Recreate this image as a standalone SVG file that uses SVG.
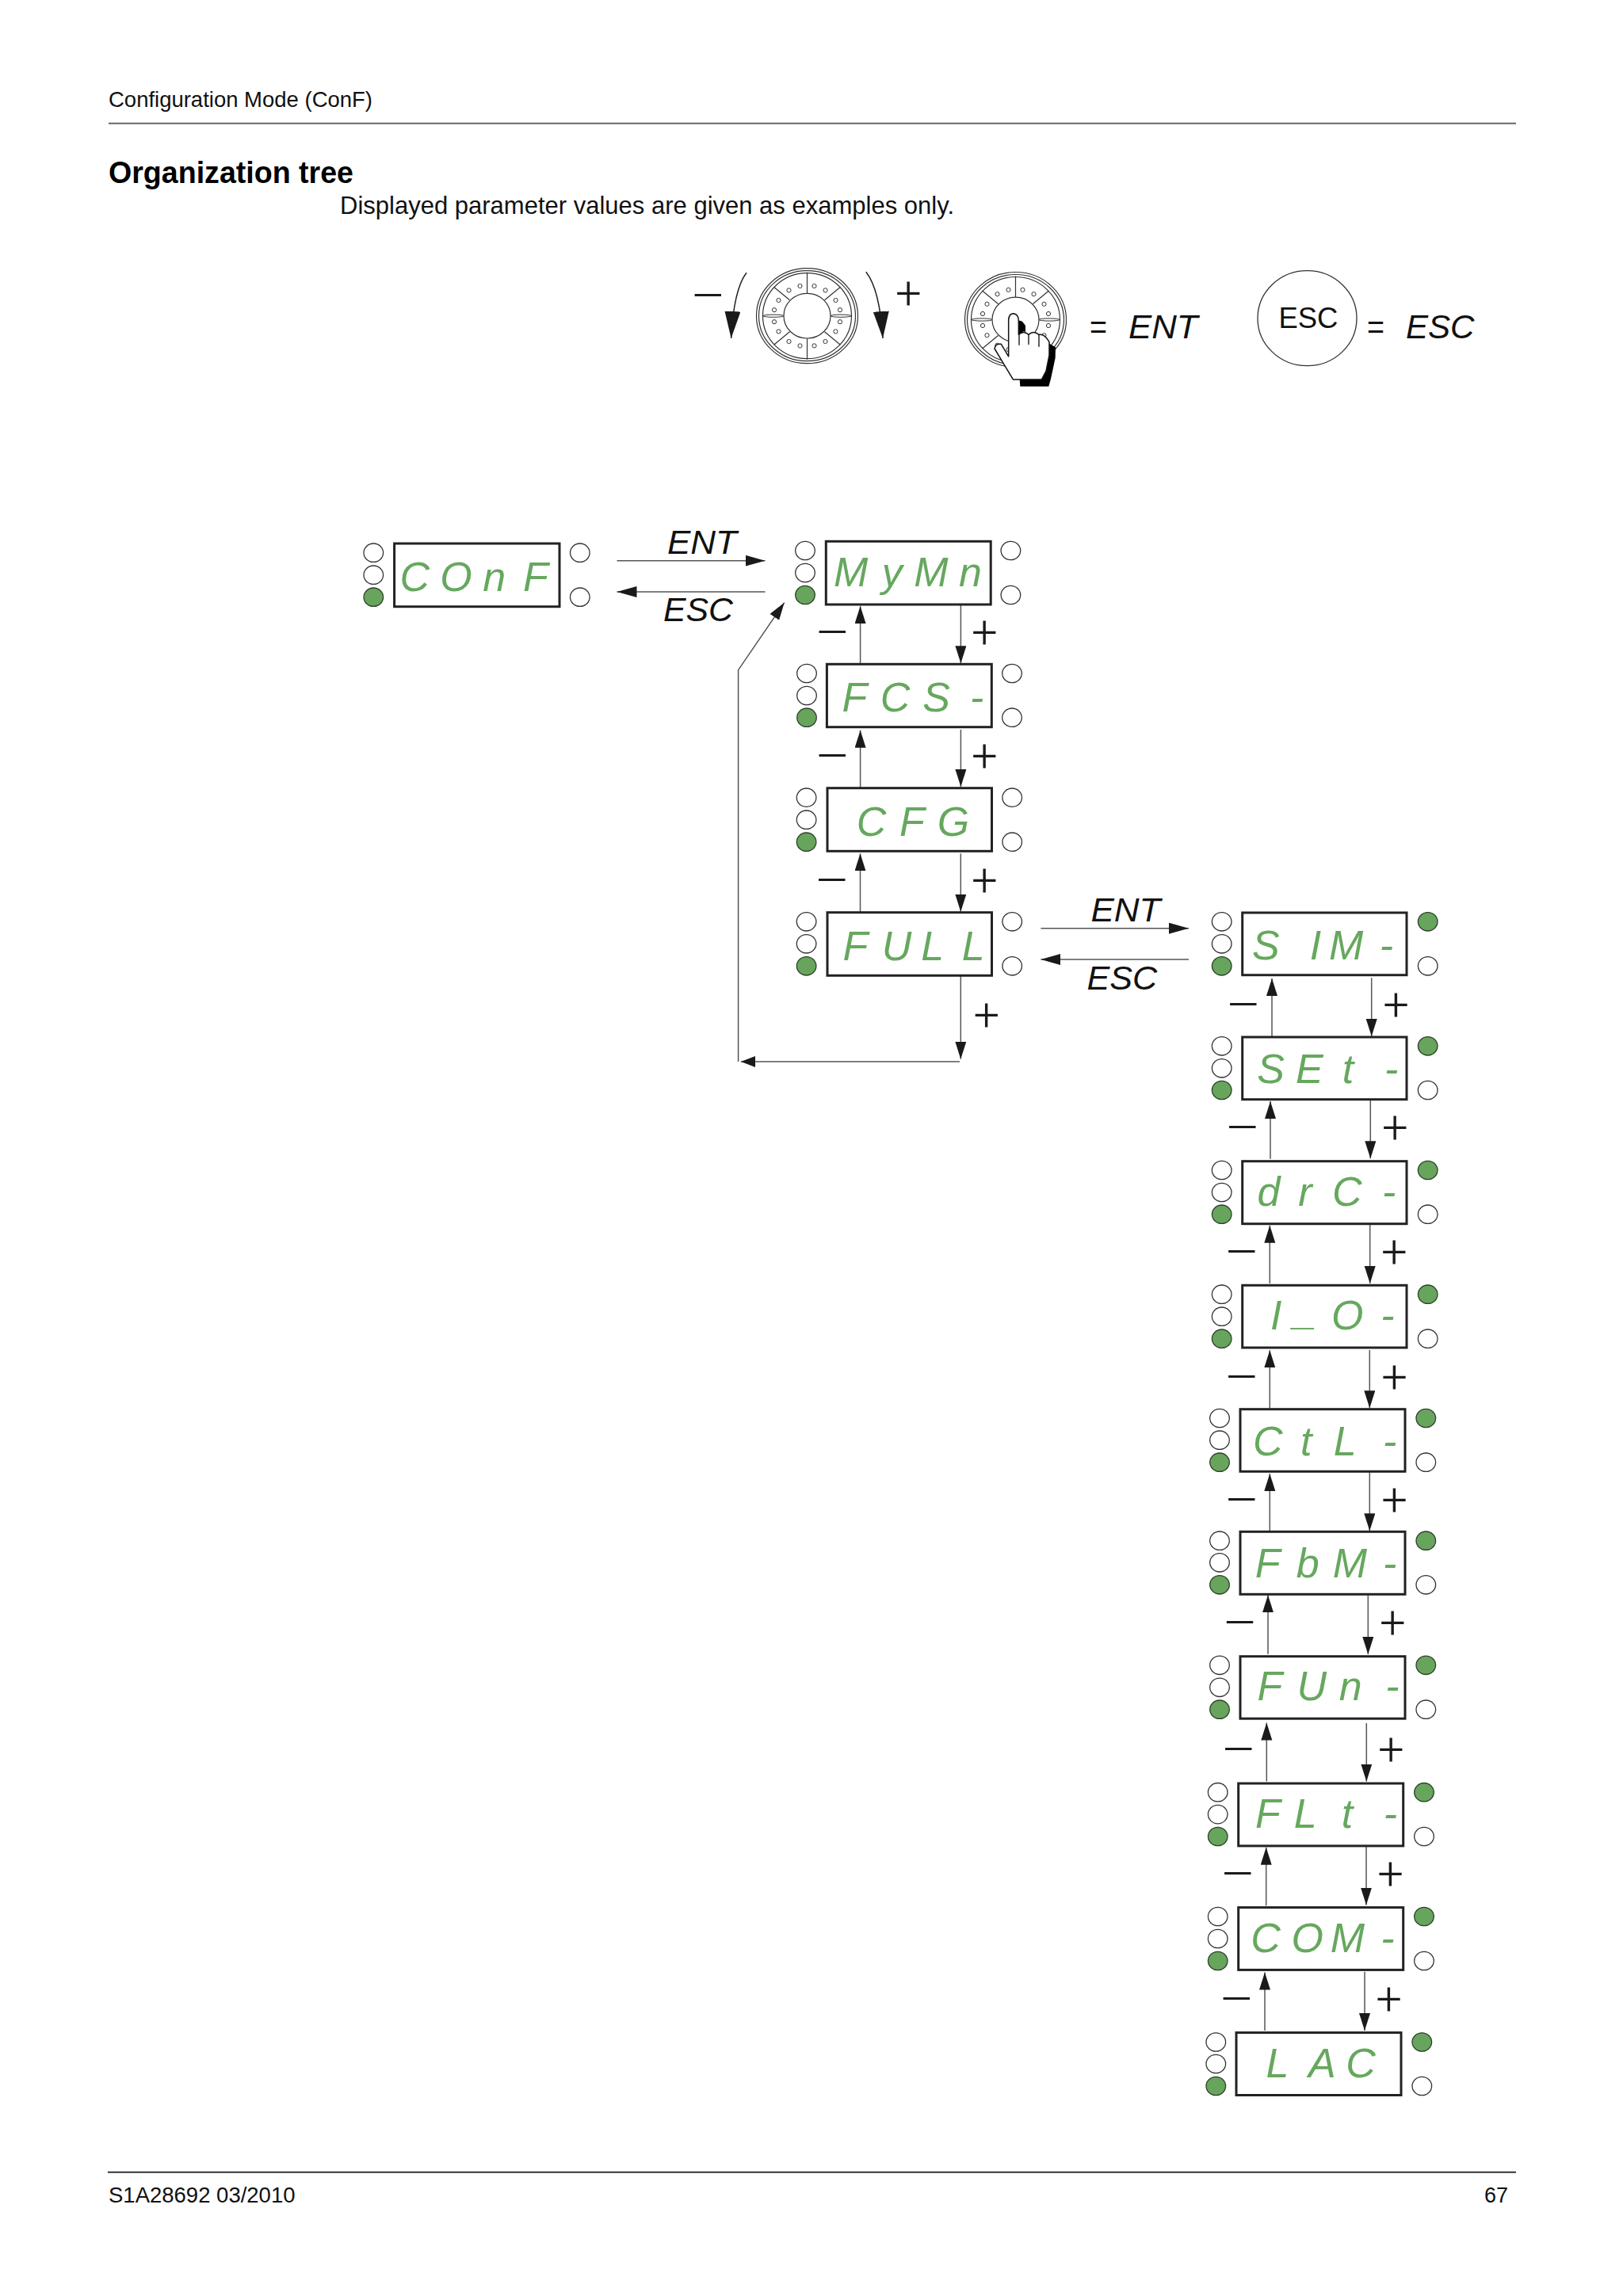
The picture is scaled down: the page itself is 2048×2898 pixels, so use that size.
<svg xmlns="http://www.w3.org/2000/svg" xmlns:xlink="http://www.w3.org/1999/xlink" width="2048" height="2898" viewBox="0 0 2048 2898">
<style>
text{font-family:"Liberation Sans",Arial,sans-serif;fill:#111}
.t{font-size:28px}
.h{font-size:38px;font-weight:bold;fill:#000}
.b{font-size:32px}
.k{font-size:37px}
.q{font-size:42px}
.i{font-size:43px;font-style:italic}
.seg{font-family:"Liberation Sans Narrow","Liberation Sans",sans-serif;font-style:italic;font-size:52px;fill:#66a85e;text-anchor:middle}
.pm{font-family:"Roboto","Liberation Sans",sans-serif;font-weight:300;font-size:58px;fill:#1a1a1a;text-anchor:middle}
.mn{font-family:"Roboto","Liberation Sans",sans-serif;font-weight:200;font-size:82px;fill:#1a1a1a;text-anchor:middle}
.box{fill:#fff;stroke:#222;stroke-width:3}
.off{fill:#fff;stroke:#333;stroke-width:1.3}
.on{fill:#67a55c;stroke:#2f3f2c;stroke-width:1.3}
.c{fill:none;stroke:#555;stroke-width:1.5}
.ck{fill:none;stroke:#222;stroke-width:1.5}
.ah{marker-end:url(#ah)}
.ah2{marker-end:url(#ah2)}
.ah3{marker-end:url(#ah3)}
.ah4{marker-end:url(#ah4)}
.rule{stroke-width:2}
.d{fill:none;stroke:#333;stroke-width:1.2}
.dw{fill:#fff;stroke:#333;stroke-width:1}
</style>
<defs>
<marker id="ah" markerUnits="userSpaceOnUse" markerWidth="24" markerHeight="16" refX="22" refY="7" orient="auto"><path d="M0 0L22 7L0 14Z" fill="#1a1a1a"/></marker>
<marker id="ah2" markerUnits="userSpaceOnUse" markerWidth="27" markerHeight="16" refX="25" refY="7" orient="auto"><path d="M0 0L25 7L0 14Z" fill="#1a1a1a"/></marker>
<marker id="ah3" markerUnits="userSpaceOnUse" markerWidth="36" markerHeight="22" refX="34" refY="10" orient="auto"><path d="M0 0L34 10L0 20Z" fill="#1a1a1a"/></marker>
<marker id="ah4" markerUnits="userSpaceOnUse" markerWidth="20" markerHeight="16" refX="18" refY="7" orient="auto"><path d="M0 0L18 7L0 14Z" fill="#1a1a1a"/></marker>
<g id="dial">
<ellipse class="d" rx="64" ry="60"/><ellipse class="d" rx="61" ry="57"/><ellipse class="d" rx="56" ry="54"/>
<ellipse class="d" rx="29.5" ry="28.3"/>
<path class="d" d="M0-55V-28.5M0 55V28.5M-42-36.500L-22-20M42-36.500L22-20M-42 36.500L-22 20M42 36.500L22 20"/>
<ellipse class="dw" cx="-42.500" rx="13" ry="1.600"/><ellipse class="dw" cx="42.500" rx="13" ry="1.600"/>
<g class="dw"><ellipse cx="-9" cy="-37.700" rx="2.600" ry="2.600"/><ellipse cx="9" cy="-37.700" rx="2.600" ry="2.600"/><ellipse cx="-23" cy="-32.300" rx="2.600" ry="2.600"/><ellipse cx="23" cy="-32.300" rx="2.600" ry="2.600"/><ellipse cx="-36" cy="-19.700" rx="2.600" ry="2.600"/><ellipse cx="36" cy="-19.700" rx="2.600" ry="2.600"/><ellipse cx="-41.500" cy="-7.500" rx="2.600" ry="2.600"/><ellipse cx="41.500" cy="-7.500" rx="2.600" ry="2.600"/><ellipse cx="-9" cy="37.700" rx="2.600" ry="2.600"/><ellipse cx="9" cy="37.700" rx="2.600" ry="2.600"/><ellipse cx="-23" cy="32.300" rx="2.600" ry="2.600"/><ellipse cx="23" cy="32.300" rx="2.600" ry="2.600"/><ellipse cx="-36" cy="19.700" rx="2.600" ry="2.600"/><ellipse cx="36" cy="19.700" rx="2.600" ry="2.600"/><ellipse cx="-41.500" cy="7.500" rx="2.600" ry="2.600"/><ellipse cx="41.500" cy="7.500" rx="2.600" ry="2.600"/></g>
</g>
</defs>
<rect width="2048" height="2898" fill="#fff"/>

<g id="page">
<text class="t" x="137" y="135" textLength="333" lengthAdjust="spacingAndGlyphs">Configuration Mode (ConF)</text>
<line class="rule" x1="137" y1="155.700" x2="1913" y2="155.700" stroke="#666"/>
<text class="h" x="137" y="230.700" textLength="309" lengthAdjust="spacingAndGlyphs">Organization tree</text>
<text class="b" x="429" y="270" textLength="775" lengthAdjust="spacingAndGlyphs">Displayed parameter values are given as examples only.</text>
<line class="rule" x1="136" y1="2741.700" x2="1913" y2="2741.700" stroke="#333"/>
<text class="t" x="137" y="2780" textLength="235.500" lengthAdjust="spacingAndGlyphs">S1A28692 03/2010</text>
<text class="t" x="1873" y="2780" textLength="30" lengthAdjust="spacingAndGlyphs">67</text>
</g>

<g id="legend">
<g id="legend-turn">
<use xlink:href="#dial" href="#dial" x="1018.500" y="398.700"/>
<path class="ck ah3" d="M942 344.300Q926 365 922.600 427"/>
<path class="ck ah3" d="M1092.800 343.300Q1110 365 1114 427"/>
<text class="mn" x="893.400" y="402">−</text>
<text class="pm" x="1146.500" y="390">+</text>
</g>
<g id="legend-ent">
<use xlink:href="#dial" href="#dial" x="1281.500" y="403.500"/>
<g transform="translate(1210 335) scale(.3333)">
<path d="M340 295L366 310L365 350L348 430L340 458H232L230 432H313L330 400L342 340Z" fill="#000"/>
<path d="M226 208L240 212L252 228V252L245 250L228 262Z" fill="#000"/>
<path d="M205 432L150 340L135 315Q138 295 160 298L188 345V205Q190 182 207 182Q226 185 226 210V262Q245 245 264 262Q282 245 303 262Q325 258 342 290V340L330 400L313 432Z" fill="#fff" stroke="#111" stroke-width="4.500" stroke-linejoin="round"/>
<path d="M228 262V302M264 262V300M303 262V308" fill="none" stroke="#111" stroke-width="4"/>
</g>
<text class="q" x="1375" y="427" textLength="22" lengthAdjust="spacingAndGlyphs">=</text>
<text class="i" x="1424" y="426.700" textLength="87.500" lengthAdjust="spacingAndGlyphs">ENT</text>
</g>
<g id="legend-esc">
<ellipse class="off" cx="1649.500" cy="401.700" rx="62.500" ry="60"/>
<text class="k" x="1613.400" y="414" textLength="75" lengthAdjust="spacingAndGlyphs">ESC</text>
<text class="q" x="1725" y="427" textLength="22" lengthAdjust="spacingAndGlyphs">=</text>
<text class="i" x="1774" y="426.700" textLength="86.500" lengthAdjust="spacingAndGlyphs">ESC</text>
</g>
</g>

<g id="connectors">
<path class="c ah2" d="M778.500 707.700H965.500"/>
<path class="c ah2" d="M965.500 747H778.500"/>
<path class="c ah2" d="M1313.400 1171.700H1500"/>
<path class="c ah2" d="M1500 1211H1313.400"/>
<path class="c ah" d="M931.600 1340V845.700L989.700 760.700"/>
<path class="c ah4" d="M1211 1340H935"/>
<path class="c ah" d="M1085.600 837.300V765"/><path class="c ah" d="M1212.400 764V837.300"/>
<path class="c ah" d="M1085.600 994V921.700"/><path class="c ah" d="M1212.400 921V993"/>
<path class="c ah" d="M1085.500 1151.300V1077.300"/><path class="c ah" d="M1212.300 1077.300V1150.700"/>
<path class="c ah" d="M1212.300 1232V1336.700"/>
<path class="c ah" d="M1605 1308V1235"/><path class="c ah" d="M1730.700 1234.300V1308"/>
<path class="c ah" d="M1603 1462.700V1390"/><path class="c ah" d="M1729.300 1388V1462.300"/>
<path class="c ah" d="M1602.300 1620V1546.700"/><path class="c ah" d="M1728.700 1545.700V1620"/>
<path class="c ah" d="M1602.300 1777.300V1704.300"/><path class="c ah" d="M1728.300 1704V1777.300"/>
<path class="c ah" d="M1602.300 1932.300V1860"/><path class="c ah" d="M1728.300 1858.300V1932.300"/>
<path class="c ah" d="M1600 2087.700V2013.300"/><path class="c ah" d="M1726.300 2013.300V2088"/>
<path class="c ah" d="M1598.300 2248.400V2174.500"/><path class="c ah" d="M1724.300 2175V2248.500"/>
<path class="c ah" d="M1597.700 2405.300V2331.800"/><path class="c ah" d="M1724 2330.700V2404.500"/>
<path class="c ah" d="M1596 2563V2489.500"/><path class="c ah" d="M1722 2488.700V2563"/>
</g>

<g id="connector-labels">
<text class="i" x="842" y="699.300" textLength="88" lengthAdjust="spacingAndGlyphs">ENT</text>
<text class="i" x="837" y="784.300" textLength="88" lengthAdjust="spacingAndGlyphs">ESC</text>
<text class="i" x="1376.400" y="1163.300" textLength="88" lengthAdjust="spacingAndGlyphs">ENT</text>
<text class="i" x="1371.500" y="1248.700" textLength="88.800" lengthAdjust="spacingAndGlyphs">ESC</text>
<text class="mn" x="1050.500" y="826.700">−</text><text class="pm" x="1242.500" y="817.500">+</text>
<text class="mn" x="1050.500" y="983.300">−</text><text class="pm" x="1242.500" y="974">+</text>
<text class="mn" x="1050" y="1140.300">−</text><text class="pm" x="1242.300" y="1131">+</text>
<text class="pm" x="1244.800" y="1300.500">+</text>
<text class="mn" x="1569" y="1297.300">−</text><text class="pm" x="1761.700" y="1288">+</text>
<text class="mn" x="1568" y="1451.700">−</text><text class="pm" x="1760.300" y="1442.500">+</text>
<text class="mn" x="1567" y="1608.700">−</text><text class="pm" x="1759.300" y="1599.500">+</text>
<text class="mn" x="1567" y="1767">−</text><text class="pm" x="1759.700" y="1757.500">+</text>
<text class="mn" x="1567" y="1921.700">−</text><text class="pm" x="1759.700" y="1912.500">+</text>
<text class="mn" x="1564.700" y="2076.700">−</text><text class="pm" x="1757.300" y="2067.500">+</text>
<text class="mn" x="1563" y="2236.700">−</text><text class="pm" x="1755.300" y="2227.500">+</text>
<text class="mn" x="1562" y="2393.600">−</text><text class="pm" x="1754.700" y="2384.500">+</text>
<text class="mn" x="1560.500" y="2551.600">−</text><text class="pm" x="1752.700" y="2542.500">+</text>
</g>

<g id="node-conf"><rect class="box" x="497.600" y="686" width="208.400" height="79.700"/><ellipse class="off" cx="471.300" cy="697.700" rx="12.300" ry="11.700"/><ellipse class="off" cx="471.300" cy="725.700" rx="12.300" ry="11.700"/><ellipse class="on" cx="471.300" cy="753.700" rx="12.300" ry="11.700"/><ellipse class="off" cx="731.800" cy="697.700" rx="12.300" ry="11.700"/><ellipse class="off" cx="731.800" cy="753.700" rx="12.300" ry="11.700"/><text class="seg" x="523.400 575.500 623.800 675.900" y="746">COnF</text></g>
<g id="node-mymn"><rect class="box" x="1042.300" y="683.300" width="207.900" height="79.700"/><ellipse class="off" cx="1016" cy="695" rx="12.300" ry="11.700"/><ellipse class="off" cx="1016" cy="723" rx="12.300" ry="11.700"/><ellipse class="on" cx="1016" cy="751" rx="12.300" ry="11.700"/><ellipse class="off" cx="1275.400" cy="695" rx="12.300" ry="11.700"/><ellipse class="off" cx="1275.400" cy="751" rx="12.300" ry="11.700"/><text class="seg" x="1073.600 1125.700 1175 1224.400" y="740">MyMn</text></g>
<g id="node-fcs"><rect class="box" x="1043.400" y="838.300" width="207.900" height="79.400"/><ellipse class="off" cx="1018" cy="850" rx="12.300" ry="11.700"/><ellipse class="off" cx="1018" cy="878" rx="12.300" ry="11.700"/><ellipse class="on" cx="1018" cy="905.700" rx="12.300" ry="11.700"/><ellipse class="off" cx="1277" cy="850" rx="12.300" ry="11.700"/><ellipse class="off" cx="1277" cy="905.700" rx="12.300" ry="11.700"/><text class="seg" x="1078.500 1129.500 1181.600 1232.700" y="898">FCS-</text></g>
<g id="node-cfg"><rect class="box" x="1044" y="994.700" width="207.500" height="79.600"/><ellipse class="off" cx="1017.600" cy="1006.700" rx="12.300" ry="11.700"/><ellipse class="off" cx="1017.600" cy="1034.700" rx="12.300" ry="11.700"/><ellipse class="on" cx="1017.600" cy="1062.700" rx="12.300" ry="11.700"/><ellipse class="off" cx="1277.200" cy="1006.700" rx="12.300" ry="11.700"/><ellipse class="off" cx="1277.200" cy="1062.700" rx="12.300" ry="11.700"/><text class="seg" x="1099.600 1151 1203" y="1055">CFG</text></g>
<g id="node-full"><rect class="box" x="1044" y="1151.700" width="207.500" height="79.600"/><ellipse class="off" cx="1017.600" cy="1163.300" rx="12.300" ry="11.700"/><ellipse class="off" cx="1017.600" cy="1191.300" rx="12.300" ry="11.700"/><ellipse class="on" cx="1017.600" cy="1219.300" rx="12.300" ry="11.700"/><ellipse class="off" cx="1277.200" cy="1163.300" rx="12.300" ry="11.700"/><ellipse class="off" cx="1277.200" cy="1219.300" rx="12.300" ry="11.700"/><text class="seg" x="1079.400 1131.500 1176.800 1228.200" y="1211.700">FULL</text></g>
<g id="node-sim"><rect class="box" x="1567.700" y="1152" width="207.300" height="78.700"/><ellipse class="off" cx="1541.700" cy="1163.300" rx="12.300" ry="11.700"/><ellipse class="off" cx="1541.700" cy="1191.300" rx="12.300" ry="11.700"/><ellipse class="on" cx="1541.700" cy="1219.300" rx="12.300" ry="11.700"/><ellipse class="on" cx="1801.700" cy="1163.300" rx="12.300" ry="11.700"/><ellipse class="off" cx="1801.700" cy="1219.300" rx="12.300" ry="11.700"/><text class="seg" x="1597.300 1660 1698.700 1749.300" y="1211">SIM-</text></g>
<g id="node-set"><rect class="box" x="1567.700" y="1309" width="207.300" height="78.700"/><ellipse class="off" cx="1541.700" cy="1320.300" rx="12.300" ry="11.700"/><ellipse class="off" cx="1541.700" cy="1348.300" rx="12.300" ry="11.700"/><ellipse class="on" cx="1541.700" cy="1376" rx="12.300" ry="11.700"/><ellipse class="on" cx="1801.700" cy="1320.300" rx="12.300" ry="11.700"/><ellipse class="off" cx="1801.700" cy="1376" rx="12.300" ry="11.700"/><text class="seg" x="1603.700 1652.300 1701 1755.700" y="1367.300">SEt-</text></g>
<g id="node-drc"><rect class="box" x="1567.700" y="1465.700" width="207.300" height="79"/><ellipse class="off" cx="1541.700" cy="1477" rx="12.300" ry="11.700"/><ellipse class="off" cx="1541.700" cy="1505" rx="12.300" ry="11.700"/><ellipse class="on" cx="1541.700" cy="1532.700" rx="12.300" ry="11.700"/><ellipse class="on" cx="1801.700" cy="1477" rx="12.300" ry="11.700"/><ellipse class="off" cx="1801.700" cy="1532.700" rx="12.300" ry="11.700"/><text class="seg" x="1601 1647 1699.700 1752.700" y="1521.700">drC-</text></g>
<g id="node-io"><rect class="box" x="1567.700" y="1622.300" width="207.300" height="78.700"/><ellipse class="off" cx="1541.700" cy="1633.700" rx="12.300" ry="11.700"/><ellipse class="off" cx="1541.700" cy="1661.700" rx="12.300" ry="11.700"/><ellipse class="on" cx="1541.700" cy="1689.700" rx="12.300" ry="11.700"/><ellipse class="on" cx="1801.700" cy="1633.700" rx="12.300" ry="11.700"/><ellipse class="off" cx="1801.700" cy="1689.700" rx="12.300" ry="11.700"/><text class="seg" x="1610.300 1646.700 1700.300 1751" y="1678.300 1672 1678.300 1678.300">I_O-</text></g>
<g id="node-ctl"><rect class="box" x="1565" y="1778.700" width="208" height="78.600"/><ellipse class="off" cx="1539" cy="1790" rx="12.300" ry="11.700"/><ellipse class="off" cx="1539" cy="1817.700" rx="12.300" ry="11.700"/><ellipse class="on" cx="1539" cy="1845.700" rx="12.300" ry="11.700"/><ellipse class="on" cx="1799.300" cy="1790" rx="12.300" ry="11.700"/><ellipse class="off" cx="1799.300" cy="1845.700" rx="12.300" ry="11.700"/><text class="seg" x="1599.700 1648.300 1697.300 1753.700" y="1836.700">CtL-</text></g>
<g id="node-fbm"><rect class="box" x="1565" y="1933.300" width="208" height="79"/><ellipse class="off" cx="1539" cy="1944.700" rx="12.300" ry="11.700"/><ellipse class="off" cx="1539" cy="1972.300" rx="12.300" ry="11.700"/><ellipse class="on" cx="1539" cy="2000.300" rx="12.300" ry="11.700"/><ellipse class="on" cx="1799.300" cy="1944.700" rx="12.300" ry="11.700"/><ellipse class="off" cx="1799.300" cy="2000.300" rx="12.300" ry="11.700"/><text class="seg" x="1599.700 1650.300 1703.300 1753.700" y="1991">FbM-</text></g>
<g id="node-fun"><rect class="box" x="1565" y="2090.700" width="208" height="78.500"/><ellipse class="off" cx="1539" cy="2101.800" rx="12.300" ry="11.700"/><ellipse class="off" cx="1539" cy="2129.800" rx="12.300" ry="11.700"/><ellipse class="on" cx="1539" cy="2157.700" rx="12.300" ry="11.700"/><ellipse class="on" cx="1799.300" cy="2101.800" rx="12.300" ry="11.700"/><ellipse class="off" cx="1799.300" cy="2157.700" rx="12.300" ry="11.700"/><text class="seg" x="1602.300 1655.300 1704.300 1757" y="2146.200">FUn-</text></g>
<g id="node-flt"><rect class="box" x="1562.700" y="2251" width="208" height="78.900"/><ellipse class="off" cx="1536.700" cy="2262.200" rx="12.300" ry="11.700"/><ellipse class="off" cx="1536.700" cy="2290.100" rx="12.300" ry="11.700"/><ellipse class="on" cx="1536.700" cy="2318" rx="12.300" ry="11.700"/><ellipse class="on" cx="1797" cy="2262.200" rx="12.300" ry="11.700"/><ellipse class="off" cx="1797" cy="2318" rx="12.300" ry="11.700"/><text class="seg" x="1600 1647.300 1700 1754.300" y="2306.600">FLt-</text></g>
<g id="node-com"><rect class="box" x="1562.700" y="2407.600" width="208" height="78.800"/><ellipse class="off" cx="1536.700" cy="2419" rx="12.300" ry="11.700"/><ellipse class="off" cx="1536.700" cy="2447" rx="12.300" ry="11.700"/><ellipse class="on" cx="1536.700" cy="2475" rx="12.300" ry="11.700"/><ellipse class="on" cx="1797" cy="2419" rx="12.300" ry="11.700"/><ellipse class="off" cx="1797" cy="2475" rx="12.300" ry="11.700"/><text class="seg" x="1597 1649.700 1700.300 1751" y="2463.900">COM-</text></g>
<g id="node-lac"><rect class="box" x="1560" y="2565.600" width="208" height="78.900"/><ellipse class="off" cx="1534.300" cy="2577.500" rx="12.300" ry="11.700"/><ellipse class="off" cx="1534.300" cy="2605" rx="12.300" ry="11.700"/><ellipse class="on" cx="1534.300" cy="2633" rx="12.300" ry="11.700"/><ellipse class="on" cx="1794.300" cy="2577.500" rx="12.300" ry="11.700"/><ellipse class="off" cx="1794.300" cy="2633" rx="12.300" ry="11.700"/><text class="seg" x="1612 1668.300 1717" y="2621.500">LAC</text></g>
</svg>
